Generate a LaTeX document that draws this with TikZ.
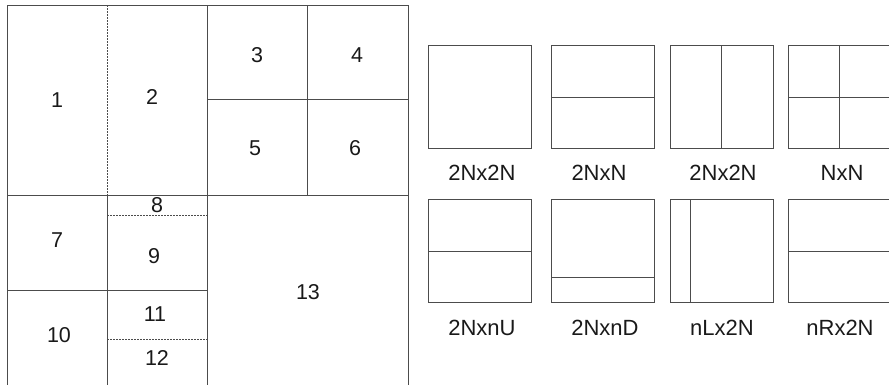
\documentclass[tikz,border=0pt]{standalone}
\usepackage{fontspec}
\setmainfont{Liberation Sans}
\begin{document}
\begin{tikzpicture}[x=1pt,y=-1pt,
  edge/.style={draw=black!70,line width=0.9pt},
  split/.style={draw=black!70,line width=0.8pt,dash pattern=on 1.6pt off 1.4pt},
  num/.style={font=\fontsize{21.5}{24}\selectfont,text=black!90,inner sep=0pt},
  tag/.style={font=\fontsize{22}{24}\selectfont,text=black!90,inner sep=0pt},
  pu/.style={draw=black!70,line width=0.9pt}]
\useasboundingbox (0,0) rectangle (889,384);
\begin{scope}
\clip (0,0) rectangle (889,384);
% ---- quadtree partition of the coding tree block ----
\draw[edge] (7,390) -- (7,5) -- (408,5) -- (408,390);
\draw[edge] (207,5) -- (207,390);
\draw[edge] (307,5) -- (307,195);
\draw[edge] (207,99) -- (408,99);
\draw[edge] (7,195) -- (408,195);
\draw[edge] (107,195) -- (107,390);
\draw[edge] (7,290) -- (207,290);
\draw[split] (107,5) -- (107,195);
\draw[split] (107,215) -- (207,215);
\draw[split] (107,339) -- (207,339);
\node[num] (n1) at (57,100) {1};
\node[num] (n2) at (152,97) {2};
\node[num] (n3) at (257,55) {3};
\node[num] (n4) at (357,55) {4};
\node[num] (n5) at (255,148) {5};
\node[num] (n6) at (355,148) {6};
\node[num] (n7) at (57,240) {7};
\node[num] (n8) at (157,205) {8};
\node[num] (n9) at (154,256) {9};
\node[num] (n10) at (59,335) {10};
\node[num] (n11) at (155,314) {11};
\node[num] (n12) at (157,358) {12};
\node[num] (n13) at (308,292) {13};
% ---- prediction unit shapes, first row ----
\draw[pu] (428,45) rectangle (531,148);
\draw[pu] (551,45) rectangle (654,148);
\draw[pu] (551,97) -- (654,97);
\draw[pu] (670,45) rectangle (773,148);
\draw[pu] (721,45) -- (721,148);
\draw[pu] (788,45) rectangle (891,148);
\draw[pu] (839,45) -- (839,148);
\draw[pu] (788,97) -- (891,97);
\node[tag] (t1) at (482,173) {2Nx2N};
\node[tag] (t2) at (599,173) {2NxN};
\node[tag] (t3) at (723,173) {2Nx2N};
\node[tag] (t4) at (842,173) {NxN};
% ---- prediction unit shapes, second row ----
\draw[pu] (428,199) rectangle (531,302);
\draw[pu] (428,251) -- (531,251);
\draw[pu] (551,199) rectangle (654,302);
\draw[pu] (551,277) -- (654,277);
\draw[pu] (670,199) rectangle (773,302);
\draw[pu] (690,199) -- (690,302);
\draw[pu] (788,199) rectangle (891,302);
\draw[pu] (788,251) -- (891,251);
\node[tag] (t5) at (482,328) {2NxnU};
\node[tag] (t6) at (605,328) {2NxnD};
\node[tag] (t7) at (722,328) {nLx2N};
\node[tag] (t8) at (840,328) {nRx2N};
\end{scope}
\end{tikzpicture}
\end{document}
